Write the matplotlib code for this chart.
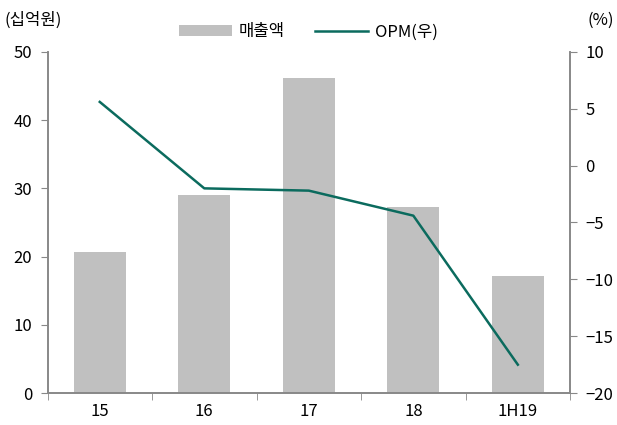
import matplotlib
matplotlib.use("Agg")
import matplotlib.pyplot as plt
import numpy as np

plt.rcParams['font.family'] = ['Noto Sans CJK KR', 'DejaVu Sans']

categories = ['15', '16', '17', '18', '1H19']
sales = [20.7, 29.0, 46.1, 27.3, 17.2]
opm = [5.6, -2.0, -2.2, -4.4, -17.5]

bar_color = '#c0c0c0'
line_color = '#0b6b5e'
spine_color = '#888888'

fig = plt.figure(figsize=(6.17, 4.25), dpi=100)
ax = fig.add_axes([0.077, 0.075, 0.847, 0.803])
x = np.arange(len(categories))
bars = ax.bar(x, sales, width=0.5, color=bar_color, label='매출액', zorder=2)
ax.set_xlim(-0.5, len(categories) - 0.5)
ax.set_ylim(0, 50)
ax.set_yticks([0, 10, 20, 30, 40, 50])
ax.set_xticks(x)
ax.set_xticklabels(categories)
ax.set_xticks(np.arange(-0.5, len(categories), 1.0), minor=True)
ax.tick_params(axis='x', which='major', length=0, pad=7, labelsize=12)
ax.tick_params(axis='x', which='minor', length=5, direction='out', color=spine_color)
ax.tick_params(axis='y', length=5, direction='out', color=spine_color, labelsize=12, pad=6)

ax2 = ax.twinx()
line, = ax2.plot(x, opm, color=line_color, lw=1.8, label='OPM(우)', zorder=3)
ax2.set_ylim(-20, 10)
ax2.set_yticks([-20, -15, -10, -5, 0, 5, 10])
ax2.set_yticklabels(['\u221220', '\u221215', '\u221210', '\u22125', '0', '5', '10'])
ax2.tick_params(axis='y', length=5, direction='out', color=spine_color, labelsize=12, pad=6)

for a in (ax, ax2):
    a.spines['top'].set_visible(False)
    for s in ('left', 'right', 'bottom'):
        a.spines[s].set_color(spine_color)
        a.spines[s].set_linewidth(1.2)

fig.text(0.008, 0.953, '(십억원)', fontsize=12, ha='left', va='center')
fig.text(0.995, 0.953, '(%)', fontsize=12, ha='right', va='center')

leg = fig.legend(handles=[bars, line], labels=['매출액', 'OPM(우)'], loc='center',
                 bbox_to_anchor=(0.5, 0.925), ncol=2, frameon=False, fontsize=12,
                 handlelength=3.2, handletextpad=0.4, columnspacing=1.8)

fig.savefig('out.png', dpi=100)
